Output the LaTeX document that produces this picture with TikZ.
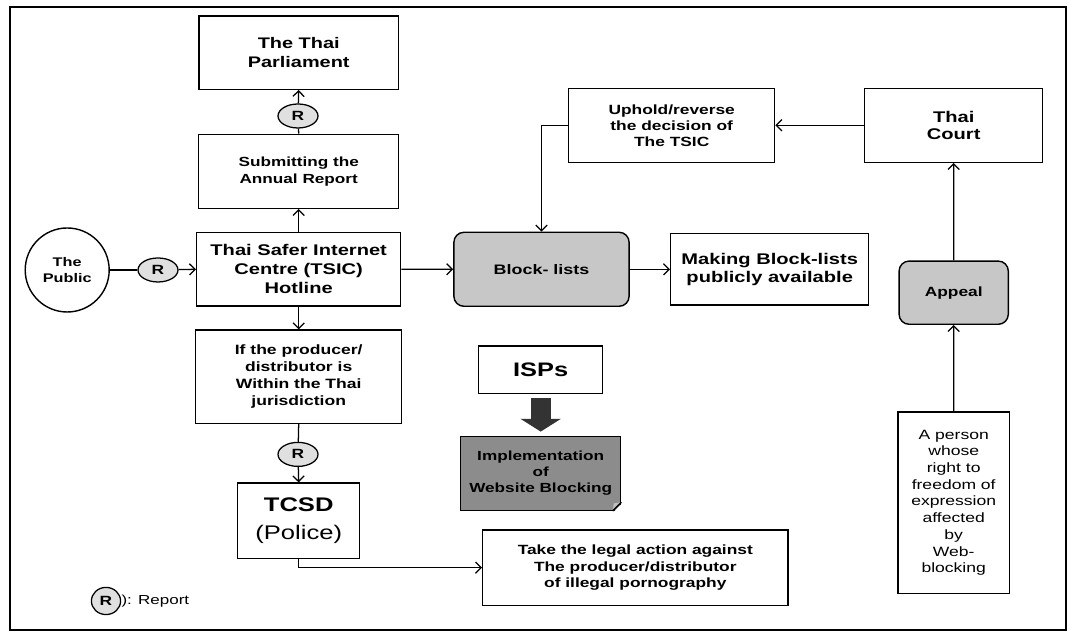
\documentclass[tikz,border=0pt]{standalone}
\usepackage{fontspec}
\setmainfont{Liberation Sans}[FakeStretch=1.3]
\usepackage{tikz}
\usetikzlibrary{calc}
\usetikzlibrary{positioning}
\usetikzlibrary{shapes.geometric}
\usetikzlibrary{arrows.meta}

\begin{document}
\begin{tikzpicture}[
  box/.style={rectangle, draw=black, line width=1pt, fill=white, align=center, anchor=south west, inner sep=2pt},
  rep/.style={ellipse, draw=black, line width=0.9pt, fill=black!12, minimum width=1cm, minimum height=0.6cm, inner sep=0pt, font=\bfseries\fontsize{9.5}{11}\selectfont},
  link/.style={line width=0.9pt}
]
\useasboundingbox (0,0) rectangle (26.75,15.8);
\draw[line width=0.9pt] (0.25,0.05) rectangle (26.65,15.625);

% left column
\node at (4.96,13.55)[box, minimum width=4.98cm, minimum height=1.83cm, font=\bfseries\fontsize{10.9}{13.5}\selectfont] (parl) {The Thai\\Parliament};
\node at (7.45,12.9)[rep] (r2) {R};
\node at (4.95,10.575)[box, minimum width=5cm, minimum height=1.85cm, font=\bfseries\fontsize{9.4}{12}\selectfont] (report) {Submitting the\\Annual Report};
\node at (4.9,8.135)[box, minimum width=5.1cm, minimum height=1.83cm, font=\bfseries\fontsize{11}{13.5}\selectfont] (tsic) {Thai Safer Internet\\Centre (TSIC)\\Hotline};
\node at (4.875,5.2)[box, minimum width=5.15cm, minimum height=2.33cm, font=\bfseries\fontsize{9.6}{12.2}\selectfont] (juris) {If the producer/\\distributor is\\Within the Thai\\jurisdiction};
\node at (7.45,4.44)[rep] (r3) {R};
\node at (5.925,1.825)[box, minimum width=3.05cm, minimum height=1.88cm, font=\fontsize{14}{19.5}\selectfont] (tcsd) {\textbf{TCSD}\\(Police)};

\node at (1.68,9.05)[circle, draw=black, line width=1pt, minimum size=2.1cm, align=center, font=\bfseries\fontsize{8.9}{12}\selectfont] (public) {The\\Public};
\node at (3.95,9.05)[rep] (r1) {R};

% middle
\node at (11.33,8.125)[box, rounded corners=0.25cm, fill=black!22, minimum width=4.38cm, minimum height=1.85cm, font=\bfseries\fontsize{9.8}{12}\selectfont] (blk) {Block- lists};
\node at (16.75,8.16)[box, minimum width=4.95cm, minimum height=1.78cm, font=\bfseries\fontsize{11}{13}\selectfont] (make) {Making Block-lists\\publicly available};
\node at (14.2,11.725)[box, minimum width=5.15cm, minimum height=1.85cm, font=\bfseries\fontsize{9.5}{11.4}\selectfont] (uphold) {Uphold/reverse\\the decision of\\The TSIC};
\node at (11.95,5.95)[box, minimum width=3.1cm, minimum height=1.18cm, font=\bfseries\fontsize{13.9}{16}\selectfont] (isps) {ISPs};
\node at (11.5,3.025)[box, fill=black!45, minimum width=4cm, minimum height=1.85cm, font=\bfseries\fontsize{9.4}{11.5}\selectfont] (impl) {Implementation\\of\\Website Blocking};
\fill[white] ($(impl.south east)+(-0.22,-0.05)$) -- ($(impl.south east)+(0.05,-0.05)$) -- ($(impl.south east)+(0.05,0.22)$) -- cycle;
\fill[black!25] ($(impl.south east)+(-0.22,0)$) -- ($(impl.south east)+(0,0.22)$) -- ($(impl.south east)+(-0.19,0.19)$) -- cycle;
\draw[line width=1pt] ($(impl.south east)+(-0.22,0)$) -- ($(impl.south east)+(0,0.22)$);
\node at (12.05,0.65)[box, minimum width=7.63cm, minimum height=1.88cm, font=\bfseries\fontsize{9.5}{12}\selectfont] (legal) {Take the legal action against\\The producer/distributor\\of illegal pornography};

% right column
\node at (21.6,11.725)[box, minimum width=4.45cm, minimum height=1.85cm, font=\bfseries\fontsize{11}{12.2}\selectfont] (court) {Thai\\Court};
\node at (22.46,7.675)[box, rounded corners=0.25cm, fill=black!22, minimum width=2.73cm, minimum height=1.58cm, font=\bfseries\fontsize{9.5}{11}\selectfont] (appeal) {Appeal};
\node at (22.435,0.95)[box, minimum width=2.78cm, minimum height=4.53cm, font=\fontsize{9.6}{11.9}\selectfont] (person) {A person\\whose\\right to\\freedom of\\expression\\affected\\by\\Web-\\blocking};

% legend
\node at (2.65,0.775)[rep, minimum width=0.73cm, minimum height=0.68cm] (leg) {R};
\node[right=0pt of leg, inner sep=0pt, font=\fontsize{9.3}{11}\selectfont] (legtxt) {): Report};

\begin{scope}[>={Straight Barb[length=4pt, width=8pt]}]
	\draw [link] (public) -- (r1);
	\draw [link, ->] (r1) -- (tsic.west);
	\draw [link, ->] (tsic.north) to (report.south);
	\draw [link] (report.north) -- (r2);
	\draw [link, ->] (r2) to (parl.south);
	\draw [link, ->] (tsic.east) to (blk.west);
	\draw [link, ->] (blk.east) to (make.west);
	\draw [link, ->] (uphold.west) -| (blk.north);
	\draw [link, ->] (court.west) to (uphold.east);
	\draw [link, ->] (appeal.north) to (court.south);
	\draw [link, ->] (person.north) to (appeal.south);
	\draw [link, ->] (tsic.south) to (juris.north);
	\draw [link] (juris.south) -- (r3);
	\draw [link, ->] (r3) to (tcsd.north);
	\draw [link, ->] (tcsd.south) |- (legal.west);
\end{scope}
\draw [line width=0.5cm, black!80, shorten <=0.1cm, shorten >=0.1cm, -{Triangle[width=1cm,length=0.32cm]}] (isps.south) -- (impl.north);

\end{tikzpicture}
\end{document}
